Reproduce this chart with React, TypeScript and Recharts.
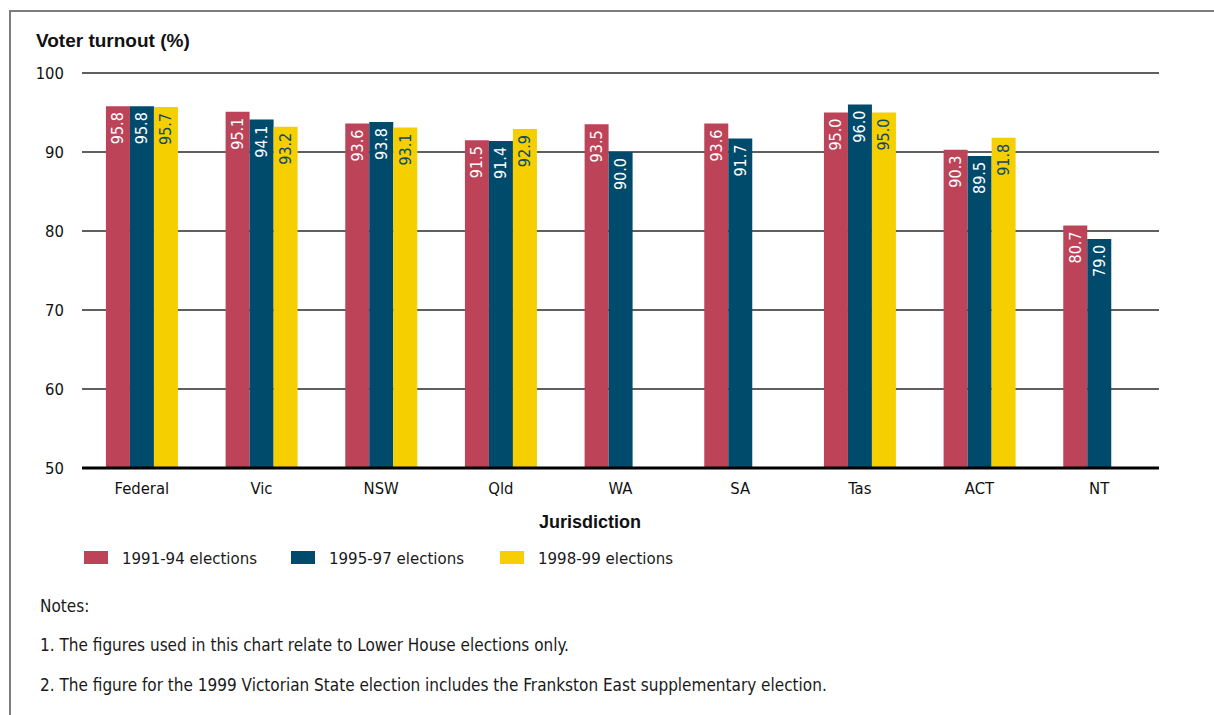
import React from 'react';
import { BarChart, Bar, XAxis, YAxis, CartesianGrid, LabelList } from 'recharts';

const categories = ['Federal', 'Vic', 'NSW', 'Qld', 'WA', 'SA', 'Tas', 'ACT', 'NT'];
const turnout9194 = [95.8, 95.1, 93.6, 91.5, 93.5, 93.6, 95.0, 90.3, 80.7];
const turnout9597 = [95.8, 94.1, 93.8, 91.4, 90.0, 91.7, 96.0, 89.5, 79.0];
const turnout9899 = [95.7, 93.2, 93.1, 92.9, null, null, 95.0, 91.8, null];
const yTicks = [50, 60, 70, 80, 90, 100];

const series = [
  { key: 'e9194', name: '1991-94 elections', color: '#bd4358', text: '#ffffff' },
  { key: 'e9597', name: '1995-97 elections', color: '#004b6c', text: '#ffffff' },
  { key: 'e9899', name: '1998-99 elections', color: '#f5cf00', text: '#0b4a66' },
];

const data = categories.map((name, i) => ({
  name,
  e9194: turnout9194[i],
  e9597: turnout9597[i],
  e9899: turnout9899[i],
}));

const FONT = '"DejaVu Sans Condensed", "Liberation Sans", sans-serif';
const BOLD_FONT = '"Liberation Sans", Arial, sans-serif';

// vertical value label sitting just inside the top of each bar
const makeLabel = (fill: string) => (props: any) => {
  const { x, y, width, value } = props;
  if (value == null) return null;
  const cx = Number(x) + Number(width) / 2;
  const ty = Number(y) + 6;
  return (
    <text
      x={cx}
      y={ty}
      transform={`rotate(-90 ${cx} ${ty})`}
      textAnchor="end"
      dominantBaseline="central"
      fill={fill}
      fontSize={16}
      fontFamily={FONT}
    >
      {Number(value).toFixed(1)}
    </text>
  );
};

const abs = (left: number, top: number): React.CSSProperties => ({ position: 'absolute', left, top });

export default function App() {
  return (
    <div style={{ position: 'absolute', left: 0, top: 0, width: 1214, height: 715, background: '#fff', overflow: 'hidden', fontFamily: FONT, color: '#1a1a1a' }}>
      <div style={{ position: 'absolute', left: 9, top: 10, width: 1230, height: 730, borderTop: '2px solid #7d7d7d', borderLeft: '2px solid #7d7d7d' }} />

      <div style={{ ...abs(36, 29), fontFamily: BOLD_FONT, fontWeight: 700, fontSize: 19, lineHeight: '24px', color: '#111' }}>
        Voter turnout (%)
      </div>

      <div style={abs(0, 0)}>
        <BarChart
          width={1214}
          height={498}
          data={data}
          margin={{ top: 73, right: 55, bottom: 0, left: 0 }}
          barCategoryGap="20%"
          barGap={0}
        >
          <CartesianGrid horizontal vertical={false} stroke="#2a2a2a" strokeWidth={1.4} />
          <YAxis
            domain={[50, 100]}
            ticks={yTicks}
            width={82}
            axisLine={false}
            tickLine={false}
            tickSize={0}
            tickMargin={18}
            tick={{ fontSize: 16.5, fill: '#111', fontFamily: FONT }}
            allowDataOverflow
          />
          <XAxis
            dataKey="name"
            height={30}
            axisLine={{ stroke: '#000', strokeWidth: 3 }}
            tickLine={false}
            tickSize={0}
            tickMargin={14}
            tick={{ fontSize: 16.5, fill: '#111', fontFamily: FONT }}
          />
          {series.map(s => (
            <Bar key={s.key} dataKey={s.key} name={s.name} fill={s.color} isAnimationActive={false}>
              <LabelList dataKey={s.key} content={makeLabel(s.text)} />
            </Bar>
          ))}
        </BarChart>
      </div>

      <div style={{ ...abs(539, 511), fontFamily: BOLD_FONT, fontWeight: 700, fontSize: 18, lineHeight: '22px', color: '#111' }}>
        Jurisdiction
      </div>

      {series.map((s, i) => {
        const left = [84, 291, 500][i];
        return (
          <div key={s.key}>
            <div style={{ ...abs(left, 551), width: 24, height: 13, background: s.color }} />
            <div style={{ ...abs(left + 38, 546), fontSize: 16.7, lineHeight: '24px', whiteSpace: 'nowrap' }}>{s.name}</div>
          </div>
        );
      })}

      <div style={{ ...abs(40, 594), fontSize: 17, lineHeight: '24px' }}>Notes:</div>
      <div style={{ ...abs(40, 633), fontSize: 17, lineHeight: '24px', whiteSpace: 'nowrap' }}>
        1. The figures used in this chart relate to Lower House elections only.
      </div>
      <div style={{ ...abs(40, 673), fontSize: 17, lineHeight: '24px', whiteSpace: 'nowrap' }}>
        2. The figure for the 1999 Victorian State election includes the Frankston East supplementary election.
      </div>
    </div>
  );
}
